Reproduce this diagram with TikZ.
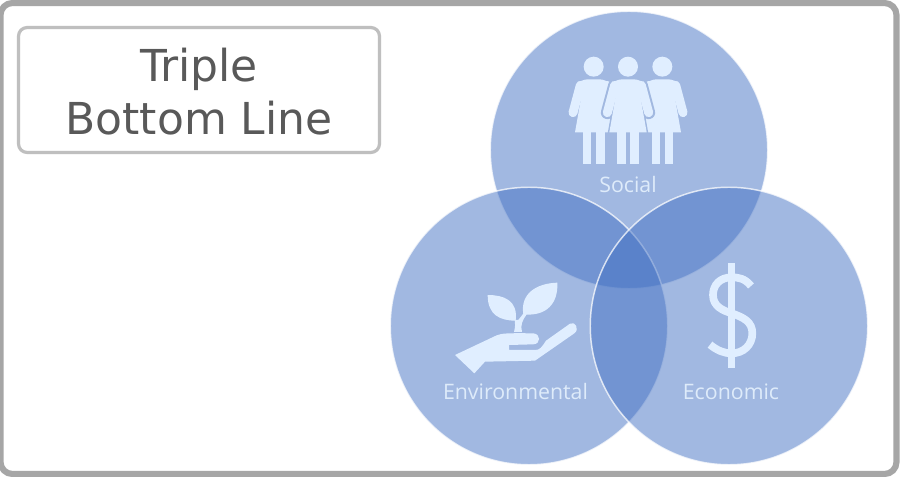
\documentclass[tikz,border=0pt]{standalone}
\usepackage{fontspec}
\setmainfont{DejaVu Sans}
\newfontfamily\labelfont{Open Sans}
\definecolor{circblue}{HTML}{4472C4}
\definecolor{circbg}{HTML}{A1B8E0}
\definecolor{iconc}{HTML}{E0EEFF}
\definecolor{labelc}{HTML}{DEEBFA}
\definecolor{framec}{HTML}{A6A6A6}
\definecolor{boxc}{HTML}{BFBFBF}
\definecolor{titlec}{HTML}{595959}
\tikzset{
  venn/.style={circle,minimum size=277.5*0.75pt,inner sep=0pt,outer sep=0pt,fill=circblue,fill opacity=0.5,draw=white,draw opacity=0.75,line width=1.1pt},
  frameline/.style={draw=framec,line width=4.6pt,rounded corners=9pt},
  titlebox/.style={draw=boxc,line width=2.4pt,rounded corners=6.5pt,minimum width=361*0.75pt,minimum height=125*0.75pt,inner sep=0pt,fill=white},
  titletext/.style={text=titlec,font=\fontsize{33}{40.2}\selectfont,align=center},
  vennlabel/.style={text=labelc,font=\labelfont\fontsize{16}{19}\selectfont,inner sep=0pt,anchor=base},
  dollarline/.style={draw=iconc,line width=23*0.25pt,line cap=butt}
}
\newcommand{\dresspath}{(-56,277) -- (-37,170) [rounded corners=2.5pt] -- (-47,128) -- (-28,118) -- (28,118) -- (47,128) [sharp corners] -- (37,170) -- (56,277) -- cycle}
\newcommand{\personshape}[2]{%
  \begin{scope}[shift={(#1,0)}]
    \fill[#2] \dresspath;
    \draw[#2,line width=27*0.25pt,line cap=round] (-40,136) -- (-62,218);
    \draw[#2,line width=27*0.25pt,line cap=round] (40,136) -- (62,218);
    \fill[#2] (-32,270) rectangle (-7,372);
    \fill[#2] (7,270) rectangle (33,372);
    \fill[#2] (0,80) circle[radius=30];
  \end{scope}}
\begin{document}
\begin{tikzpicture}[x=0.75pt,y=-0.75pt]
\useasboundingbox (0,0) rectangle (900,477);
\fill[white] (0,0) rectangle (900,477);
% venn circles
\node[venn] (social) at (629,150) {};
\node[venn] (env) at (529,326) {};
\node[venn] (eco) at (729,326) {};
% frame
\draw[frameline] (0.5,3) rectangle (896.5,474);
% title
\node[titlebox] (titleb) at (199,90) {};
\node[titletext] (title) at (199,91.5) {Triple\\Bottom Line};
% labels
\node[vennlabel] (lsocial) at (628,192.5) {Social};
\node[vennlabel] (lenv) at (515.5,399) {Environmental};
\node[vennlabel] (leco) at (731,399) {Economic};
% people icon
\begin{scope}[shift={(550,40)},x=0.25pt,y=-0.25pt]
  \personshape{131}{iconc}
  \personshape{337}{iconc}
  \begin{scope}[shift={(234,0)}]
    \draw[circbg,line width=2.2pt] \dresspath;
    \draw[circbg,line width=39*0.25pt,line cap=round] (-40,136) -- (-62,218);
    \draw[circbg,line width=39*0.25pt,line cap=round] (40,136) -- (62,218);
  \end{scope}
  \personshape{234}{iconc}
\end{scope}
% plant and hand icon
\begin{scope}[shift={(440,270)},x=0.25pt,y=-0.25pt]
  \fill[iconc] (45,255) -- (170,196) .. controls (185,190) and (200,189) .. (280,190)
    .. controls (303,192) and (303,222) .. (280,223) -- (207,225) -- (207,240) -- (285,240)
    .. controls (300,240) and (305,232) .. (318,212) -- (390,161)
    .. controls (405,152) and (420,178) .. (403,190) -- (285,272) -- (135,275) -- (103,310) -- cycle;
  \fill[iconc] (143,75) .. controls (190,75) and (235,90) .. (227,152)
    .. controls (180,152) and (143,135) .. (143,75) -- cycle;
  \fill[iconc] (352,38) .. controls (355,100) and (320,140) .. (250,133)
    .. controls (240,70) and (290,40) .. (352,38) -- cycle;
  \fill[iconc] (222,186) .. controls (226,170) and (226,160) .. (224,150) -- (234,150)
    .. controls (238,147) and (245,137) .. (252,128) -- (260,133)
    .. controls (248,150) and (240,165) .. (246,186) -- cycle;
\end{scope}
% dollar icon
\begin{scope}[shift={(670,250)},x=0.25pt,y=-0.25pt]
  \fill[iconc] (173,40) rectangle (196,353);
  \draw[dollarline] (243,108) .. controls (225,85) and (205,82) .. (185,82)
    .. controls (150,82) and (129,105) .. (129,135)
    .. controls (129,170) and (160,182) .. (185,190)
    .. controls (220,202) and (247,215) .. (247,250)
    .. controls (247,285) and (220,310) .. (185,310)
    .. controls (160,310) and (140,300) .. (120,284);
\end{scope}
\end{tikzpicture}
\end{document}
